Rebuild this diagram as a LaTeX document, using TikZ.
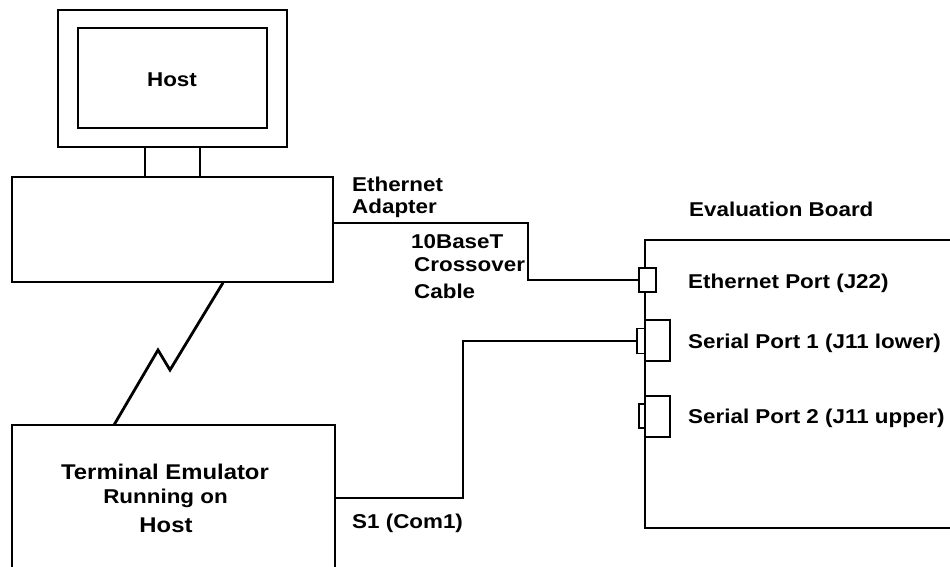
\documentclass[tikz,border=0pt]{standalone}
\usepackage{fontspec}
\setmainfont{Liberation Sans}[FakeStretch=1.12]
\begin{document}
\begin{tikzpicture}[x=1pt,y=-1pt,
  wire/.style={line width=1.5pt, line join=miter},
  box/.style={draw, line width=1.5pt, rectangle, inner sep=0pt, fill=white},
  lbl/.style={inner sep=0pt, font=\fontsize{20}{23}\selectfont\bfseries},
  biglbl/.style={inner sep=0pt, font=\fontsize{21.3}{24}\selectfont\bfseries},
  jag/.style={line width=2.8pt, line join=miter},
]
\useasboundingbox (0,0) rectangle (950,567);

% host workstation: monitor, screen, neck and base unit
\node[box, line width=1.7pt, minimum width=229pt, minimum height=137pt] (monitor) at (172.5,78.5) {};
\node[box, line width=1.7pt, minimum width=189pt, minimum height=100pt] (screen) at (172.5,78) {};
\node[lbl, anchor=base] (hostlbl) at (172,87) {Host};
\node[box, line width=1.7pt, minimum width=55pt, minimum height=30pt] (neck) at (172.5,162) {};
\node[box, minimum width=321pt, minimum height=105pt] (base) at (172.5,229.5) {};

% terminal emulator box (runs off the bottom edge)
\draw[wire] (12,567) -- (12,425) -- (335,425) -- (335,567);
\coordinate (termtop) at (114,425);
\coordinate (termport) at (334,498);
\node[biglbl, anchor=base] (term1) at (165,479) {Terminal Emulator};
\node[lbl, anchor=base] (term2) at (165.5,503) {Running on};
\node[biglbl, anchor=base] (term3) at (166,532) {Host};

% evaluation board (runs off the right edge)
\draw[wire] (950,240) -- (645,240) -- (645,528) -- (950,528);
\node[lbl, anchor=base west] (boardlbl) at (689,216) {Evaluation Board};

% board connectors
\node[box, minimum width=17pt, minimum height=24pt] (ethport) at (647.5,280) {};
\node[box, minimum width=25pt, minimum height=41pt] (sp1) at (657.5,340.5) {};
\node[box, minimum width=8pt, minimum height=25pt] (sp1tab) at (641,341) {};
\node[box, minimum width=25pt, minimum height=41pt] (sp2) at (657.5,416.5) {};
\node[box, minimum width=6pt, minimum height=24pt] (sp2tab) at (642,416) {};
\node[lbl, anchor=base west] (ethlbl) at (688,288) {Ethernet Port (J22)};
\node[lbl, anchor=base west] (sp1lbl) at (688,348) {Serial Port 1 (J11 lower)};
\node[lbl, anchor=base west] (sp2lbl) at (688,423) {Serial Port 2 (J11 upper)};

% link between host and terminal
\draw[jag] ([xshift=50.5pt]base.south) -- (170,370) -- (158,350) -- (termtop);

% ethernet crossover cable
\draw[wire] ([yshift=6.5pt]base.east) -| (528,280) -- (ethport.west);
\node[lbl, anchor=base west] (adapt1) at (352,191) {Ethernet};
\node[lbl, anchor=base west] (adapt2) at (352,213) {Adapter};
\node[lbl, anchor=base west] (cable1) at (411,248) {10BaseT};
\node[lbl, anchor=base west] (cable2) at (414,271) {Crossover};
\node[lbl, anchor=base west] (cable3) at (414,298) {Cable};

% serial cable
\draw[wire] (termport) -| (463,341) -- (sp1tab.west);
\node[lbl, anchor=base west] (comlbl) at (352,528) {S1 (Com1)};
\end{tikzpicture}
\end{document}
